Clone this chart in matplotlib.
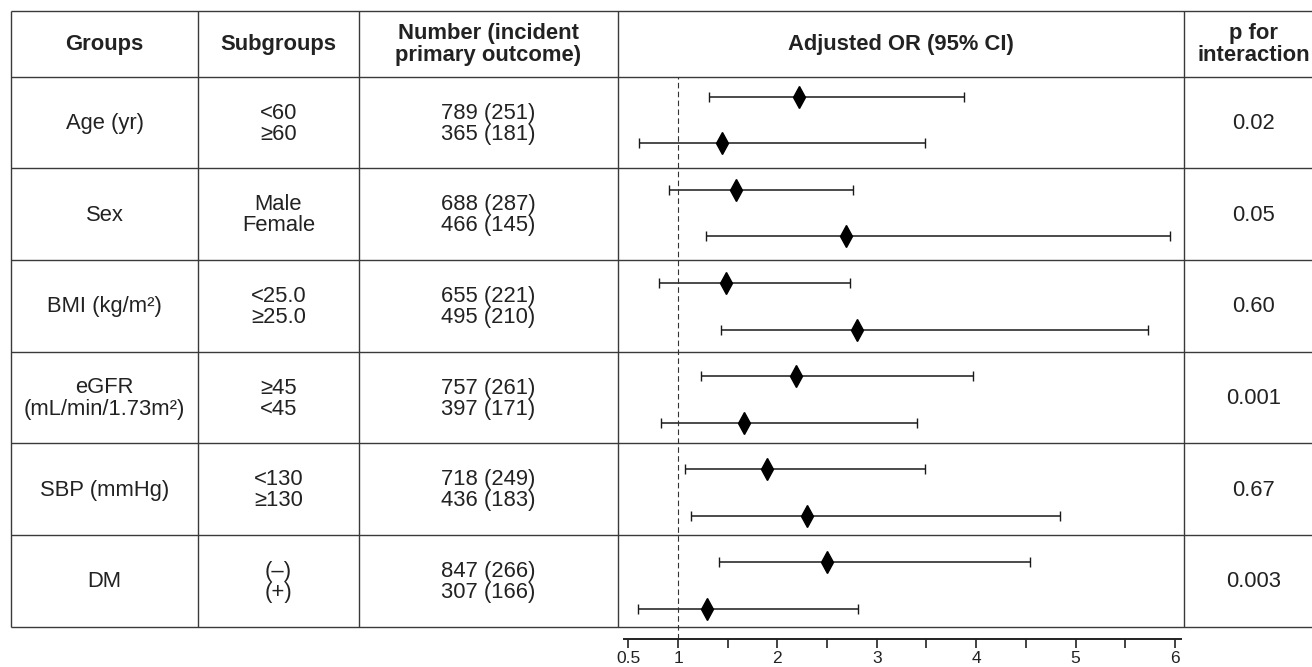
import numpy as np
import matplotlib
matplotlib.use("Agg")
import matplotlib.pyplot as plt

plt.rcParams['font.family'] = ['Liberation Sans', 'DejaVu Sans']

# data
groups = ["Age (yr)", "Sex", "BMI (kg/m²)", "eGFR\n(mL/min/1.73m²)", "SBP (mmHg)", "DM"]
subgroups = [["<60", "≥60"], ["Male", "Female"], ["<25.0", "≥25.0"],
             ["≥45", "<45"], ["<130", "≥130"], ["(–)", "(+)"]]
numbers = [["789 (251)", "365 (181)"], ["688 (287)", "466 (145)"],
           ["655 (221)", "495 (210)"], ["757 (261)", "397 (171)"],
           ["718 (249)", "436 (183)"], ["847 (266)", "307 (166)"]]
or_est = [2.22, 1.44, 1.58, 2.69, 1.48, 2.80, 2.19, 1.66, 1.90, 2.30, 2.50, 1.29]
ci_low = [1.31, 0.61, 0.91, 1.28, 0.81, 1.43, 1.23, 0.83, 1.07, 1.13, 1.41, 0.60]
ci_high = [3.88, 3.49, 2.76, 5.95, 2.73, 5.73, 3.97, 3.40, 3.49, 4.84, 4.54, 2.81]
p_values = ["0.02", "0.05", "0.60", "0.001", "0.67", "0.003"]
headers = ["Groups", "Subgroups", "Number (incident\nprimary outcome)",
           "Adjusted OR (95% CI)", "p for\ninteraction"]
major_ticks = [0.5, 1, 2, 3, 4, 5, 6]
minor_ticks = [1.5, 2.5, 3.5, 4.5, 5.5]

W, H = 1312, 667
fig = plt.figure(figsize=(W / 100, H / 100), dpi=100)

# table layout in pixels
col_edges = [11, 198, 359, 618, 1183.5, 1323.5]
top, head_bot, bot = 11, 76.7, 626.7
grp_h = (bot - head_bot) / len(groups)
line_c = '#3a3a3a'
txt_c = '#222222'
fs = 15.8

tab = fig.add_axes([0, 0, 1, 1])
tab.set_xlim(0, W)
tab.set_ylim(H, 0)
tab.axis('off')

hl = [top, head_bot] + [head_bot + grp_h * (i + 1) for i in range(len(groups))]
for y in hl:
    tab.plot([col_edges[0], W], [y, y], color=line_c, lw=1.0, solid_capstyle='butt')
for x in col_edges[:-1]:
    tab.plot([x, x], [top, bot], color=line_c, lw=1.0, solid_capstyle='butt')

centers = [(col_edges[i] + col_edges[i + 1]) / 2 for i in range(len(col_edges) - 1)]
for c, h in zip(centers, headers):
    tab.text(c, (top + head_bot) / 2 + 1, h, ha='center', va='center', fontsize=fs,
             fontweight='bold', color=txt_c, linespacing=1.05)

dy = 10.5
for i, g in enumerate(groups):
    yc = head_bot + grp_h * (i + 0.5) + 1
    tab.text(centers[0], yc, g, ha='center', va='center', fontsize=fs, color=txt_c,
             linespacing=1.05)
    for k, s in enumerate([-dy, dy]):
        tab.text(centers[1], yc + s, subgroups[i][k], ha='center', va='center',
                 fontsize=fs, color=txt_c)
        tab.text(centers[2], yc + s, numbers[i][k], ha='center', va='center',
                 fontsize=fs, color=txt_c)
    tab.text(centers[4], yc, p_values[i], ha='center', va='center', fontsize=fs, color=txt_c)

# forest panel
fx0, fx1 = col_edges[3], col_edges[4]
ax = fig.add_axes([fx0 / W, (H - bot) / H, (fx1 - fx0) / W, (bot - head_bot) / H])
ax.patch.set_alpha(0)
ax.set_xlim(0.396, 6.086)
row_pitch = 46.57
first_row = 96.7
ax.set_ylim((bot - first_row) / row_pitch, (head_bot - first_row) / row_pitch)

rows = np.arange(len(or_est))
est = np.array(or_est)
ax.errorbar(est, rows, xerr=[est - np.array(ci_low), np.array(ci_high) - est],
            fmt='none', ecolor='#1a1a1a', elinewidth=1.1, capsize=3.3, capthick=1.0)
ax.plot(est, rows, 'd', color='black', ms=11, zorder=3)

ext = 12.6 / (bot - head_bot)
ax.axvline(1, ymin=-ext, ymax=1, color='#333333', lw=0.8, ls=(0, (5, 3)), clip_on=False)

for s in ['top', 'left', 'right']:
    ax.spines[s].set_visible(False)
ax.spines['bottom'].set_position(('outward', 12.6 * 0.72))
ax.spines['bottom'].set_bounds(0.454, 6.056)
ax.spines['bottom'].set_linewidth(1.4)
ax.spines['bottom'].set_color('#222222')
ax.set_yticks([])
ax.set_xticks(major_ticks)
ax.set_xticklabels([f"{t:g}" for t in major_ticks])
ax.set_xticks(minor_ticks, minor=True)
ax.tick_params(axis='x', which='both', direction='out', length=6.5, width=1.2,
               color='#222222', labelsize=12.5, labelcolor=txt_c, pad=2)

fig.savefig('out.png', dpi=100)
